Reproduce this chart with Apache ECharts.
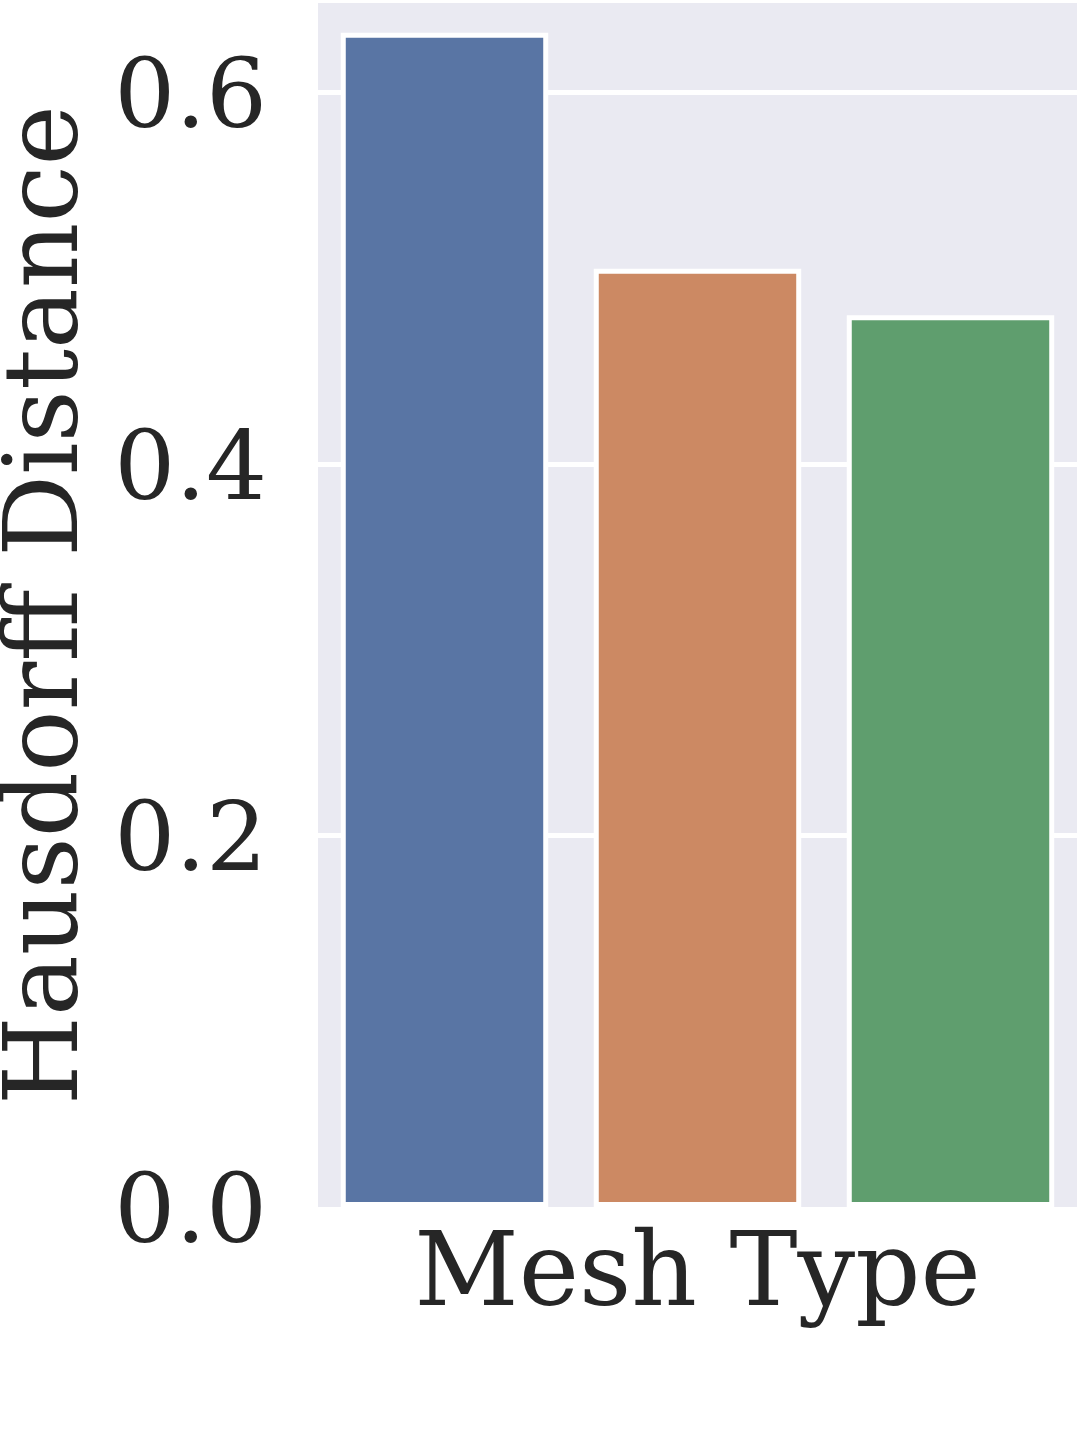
<!DOCTYPE html>
<html>
<head>
<meta charset="utf-8">
<script src="https://cdn.jsdelivr.net/npm/echarts@6/dist/echarts.min.js"></script>
<style>html,body{margin:0;padding:0;background:#fff;}#chart{width:1080px;height:1439px;}</style>
</head>
<body>
<div id="chart"></div>
<script>
const categories = ['A', 'B', 'C'];
const values = [0.632, 0.505, 0.480];
const barColors = ['#5975a4', '#cc8963', '#5f9e6e'];
const yTicks = [0, 0.2, 0.4, 0.6];

const chart = echarts.init(document.getElementById('chart'), null, {renderer: 'canvas'});
const font = 'DejaVu Serif';
chart.setOption({
  animation: false,
  backgroundColor: '#ffffff',
  grid: {left: 318, right: 3, top: 3, bottom: 232, show: true, backgroundColor: '#eaeaf2', borderWidth: 0,
         containLabel: false, outerBoundsMode: 'none'},
  xAxis: {
    type: 'category',
    data: categories,
    name: 'Mesh Type',
    nameLocation: 'middle',
    nameGap: 20,
    nameTextStyle: {fontFamily: font, fontSize: 102, color: '#262626'},
    axisLine: {show: false},
    axisTick: {show: false},
    axisLabel: {show: false},
    splitLine: {show: false}
  },
  yAxis: {
    type: 'value',
    min: 0,
    max: 0.648,
    interval: 0.2,
    name: 'Hausdorff Distance',
    nameLocation: 'middle',
    nameRotate: 90,
    nameGap: 217,
    nameTextStyle: {fontFamily: font, fontSize: 102, color: '#262626'},
    axisLine: {show: false},
    axisTick: {show: false},
    axisLabel: {
      fontFamily: font, fontSize: 96, color: '#262626', margin: 51,
      showMaxLabel: false,
      formatter: function (v) { return yTicks.some(t => Math.abs(t - v) < 1e-9) ? '{a|' + v.toFixed(1) + '}' : ''; },
      rich: {a: {fontFamily: font, fontSize: 96, color: '#262626', padding: [20, 0, 0, 0]}}
    },
    splitLine: {show: true, showMinLine: false, showMaxLine: false, lineStyle: {color: '#ffffff', width: 5}}
  },
  series: [{
    type: 'bar',
    barWidth: '82%',
    data: values.map((v, i) => ({value: v, itemStyle: {color: barColors[i]}})),
    itemStyle: {borderColor: '#ffffff', borderWidth: 5}
  }]
});
</script>
</body>
</html>
